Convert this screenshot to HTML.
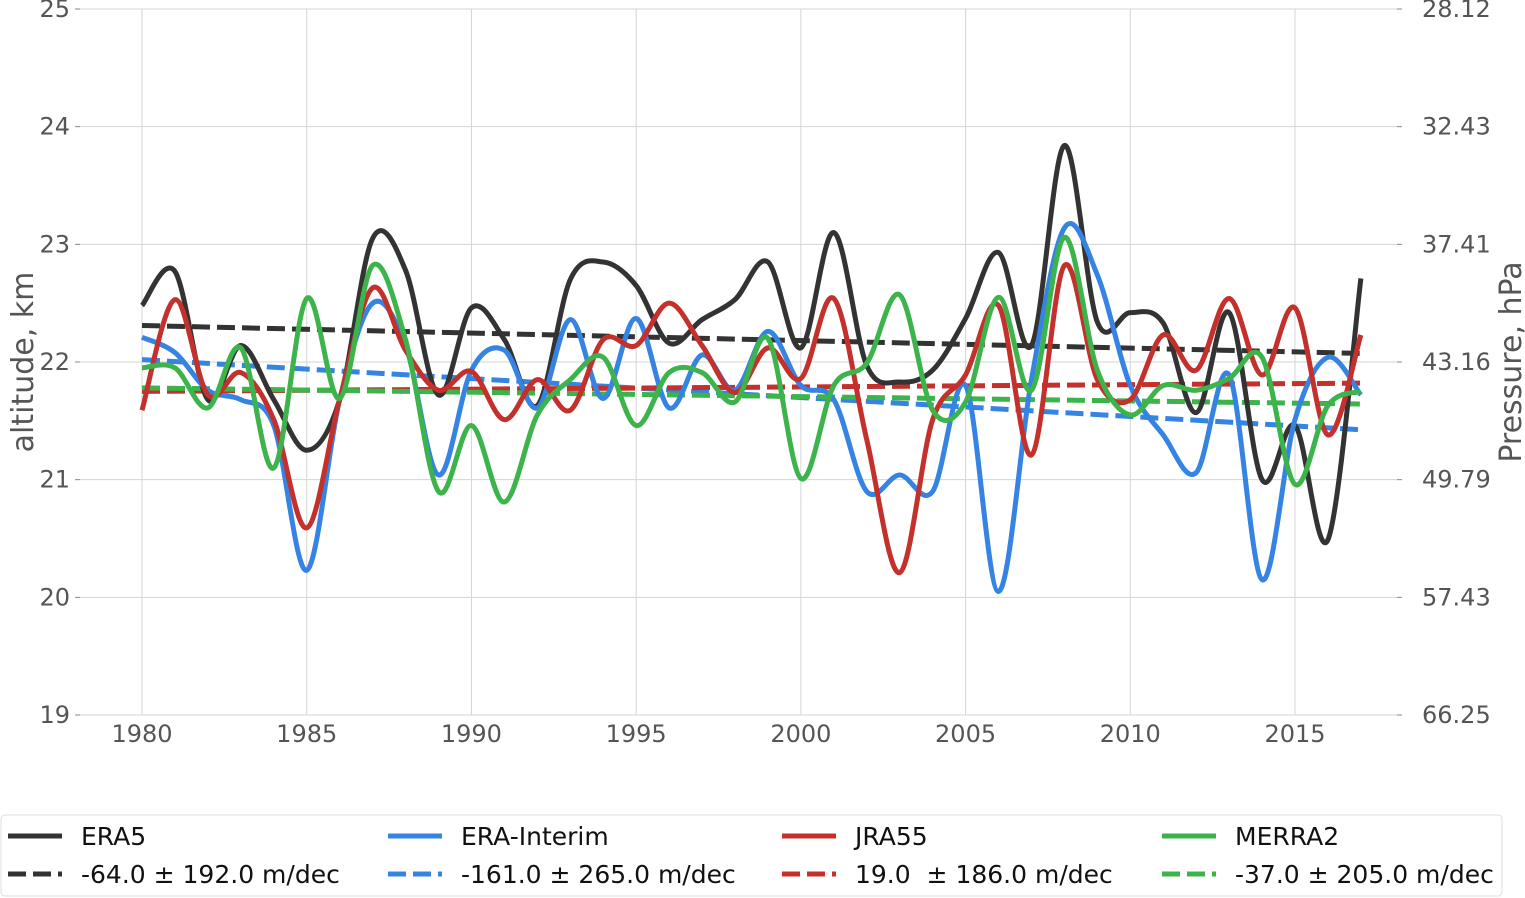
<!DOCTYPE html>
<html><head><meta charset="utf-8"><style>
body{margin:0;background:#fff;width:1525px;height:898px;overflow:hidden;font-family:"Liberation Sans","DejaVu Sans",sans-serif}
svg{display:block}
</style></head><body>
<svg id="chart" width="1525" height="898" xmlns="http://www.w3.org/2000/svg" font-family="DejaVu Sans, Liberation Sans, sans-serif"></svg>
<script>
const years=[1980,1981,1982,1983,1984,1985,1986,1987,1988,1989,1990,1991,1992,1993,1994,1995,1996,1997,1998,1999,2000,2001,2002,2003,2004,2005,2006,2007,2008,2009,2010,2011,2012,2013,2014,2015,2016,2017];
const era5=[22.48,22.77,21.68,22.14,21.68,21.25,21.68,23.05,22.78,21.72,22.46,22.19,21.63,22.70,22.85,22.65,22.16,22.36,22.53,22.85,22.12,23.10,21.97,21.83,21.93,22.37,22.93,22.14,23.84,22.34,22.42,22.33,21.57,22.42,21.00,21.46,20.49,22.71];
const eraInterim=[22.21,22.08,21.76,21.68,21.46,20.23,21.68,22.50,22.14,21.04,21.93,22.10,21.61,22.36,21.69,22.37,21.61,22.06,21.76,22.26,21.80,21.68,20.90,21.04,20.90,21.80,20.05,21.85,23.14,22.74,21.80,21.38,21.06,21.89,20.15,21.51,22.04,21.72];
const jra55=[21.59,22.53,21.72,21.91,21.51,20.59,21.68,22.63,22.10,21.76,21.92,21.51,21.85,21.59,22.19,22.14,22.50,22.14,21.74,22.12,21.86,22.54,21.34,20.21,21.51,21.89,22.48,21.21,22.82,21.85,21.68,22.23,21.93,22.54,21.89,22.46,21.38,22.23];
const merra2=[21.95,21.95,21.61,22.12,21.10,22.54,21.69,22.82,22.19,20.90,21.46,20.81,21.55,21.85,22.04,21.46,21.91,21.91,21.66,22.20,21.01,21.80,21.99,22.57,21.59,21.66,22.55,21.76,23.06,21.93,21.55,21.80,21.76,21.86,22.04,20.96,21.63,21.75];
const trendSlopes=[-64,-161,19,-37];
const trendIntercepts=[22.31,22.02,21.75,21.78];
const yTicks=[19,20,21,22,23,24,25];
const pTicks=["66.25","57.43","49.79","43.16","37.41","32.43","28.12"];
const xTicks=[1980,1985,1990,1995,2000,2005,2010,2015];
const seriesNames=["ERA5","ERA-Interim","JRA55","MERRA2"];
const trendLabels=["-64.0 ± 192.0 m/dec","-161.0 ± 265.0 m/dec","19.0  ± 186.0 m/dec","-37.0 ± 205.0 m/dec"];
const colors=["#333333","#3584e4","#c4302b","#3cb44b"];
const NS="http://www.w3.org/2000/svg",svg=document.getElementById('chart');
const X=y=>142+(y-1980)*(1295-142)/35;
const Y=v=>715-(v-19)*(715-9)/6;
function el(t,a,p){const e=document.createElementNS(NS,t);for(const k in a)e.setAttribute(k,a[k]);(p||svg).appendChild(e);return e;}
for(const t of yTicks){
 const g=el('line',{x1:80,x2:1397,y1:Y(t),y2:Y(t),stroke:'#d5d5d5','stroke-width':1});
 
 
 el('line',{x1:75,x2:80,y1:Y(t),y2:Y(t),stroke:'#888'});
 const l=el('text',{x:70,y:Y(t)+8,'text-anchor':'end','font-size':24,fill:'#555'});l.textContent=t;
 
 
}
pTicks.forEach((p,i)=>{
 el('line',{x1:1397,x2:1402,y1:Y(yTicks[i]),y2:Y(yTicks[i]),stroke:'#888'});
 const l=el('text',{x:1422,y:Y(yTicks[i])+8,'font-size':24,fill:'#555'});l.textContent=p;
 
 
});
for(const t of xTicks){
 const g=el('line',{x1:X(t),x2:X(t),y1:9,y2:715,stroke:'#d5d5d5'});
 
 
 const l=el('text',{x:X(t),y:742,'text-anchor':'middle','font-size':24,fill:'#555'});l.textContent=t;
 
 
}
let t1=el('text',{x:0,y:0,transform:'translate(33,362) rotate(-90)','text-anchor':'middle','font-size':30,fill:'#555'});t1.textContent='altitude, km';


let t2=el('text',{x:0,y:0,transform:'translate(1521,362) rotate(-90)','text-anchor':'middle','font-size':30,fill:'#555'});t2.textContent='Pressure, hPa';


function smooth(vals){
 const p=vals.map((v,i)=>[X(years[i]),Y(v)]);let d=`M${p[0][0]},${p[0][1]}`;
 for(let i=0;i<p.length-1;i++){const a=p[i-1]||p[i],b=p[i],c=p[i+1],e=p[i+2]||c;
  d+=` C${b[0]+(c[0]-a[0])/6},${b[1]+(c[1]-a[1])/6} ${c[0]-(e[0]-b[0])/6},${c[1]-(e[1]-b[1])/6} ${c[0]},${c[1]}`;}
 return d;}
[era5,eraInterim,jra55,merra2].forEach((s,i)=>{
 const t0=years[0],tn=years[years.length-1];
 const tr=el('line',{x1:X(t0),x2:X(tn),y1:Y(trendIntercepts[i]),y2:Y(trendIntercepts[i]+trendSlopes[i]*(tn-t0)/10000),stroke:colors[i],'stroke-width':5,'stroke-dasharray':'18,7'});
 
 
});
[era5,eraInterim,jra55,merra2].forEach((s,i)=>{
 const p=el('path',{d:smooth(s),fill:'none',stroke:colors[i],'stroke-width':5});
 
 
});
const lg=el('g',{});


el('rect',{x:1,y:815,width:1501,height:81,rx:4,fill:'#fff',stroke:'#ddd'},lg);
const cols=[8,388,782,1162];
seriesNames.forEach((n,i)=>{
 el('line',{x1:cols[i],x2:cols[i]+54,y1:836,y2:836,stroke:colors[i],'stroke-width':5},lg);
 const a=el('text',{x:cols[i]+73,y:845,'font-size':25,fill:'#111'},lg);a.textContent=n;
 
 
 el('line',{x1:cols[i],x2:cols[i]+54,y1:874,y2:874,stroke:colors[i],'stroke-width':5,'stroke-dasharray':'18,7'},lg);
 const b=el('text',{x:cols[i]+73,y:883,'font-size':25,fill:'#111',style:'white-space:pre'},lg);b.textContent=trendLabels[i];
 
 
});
</script>
</body></html>
